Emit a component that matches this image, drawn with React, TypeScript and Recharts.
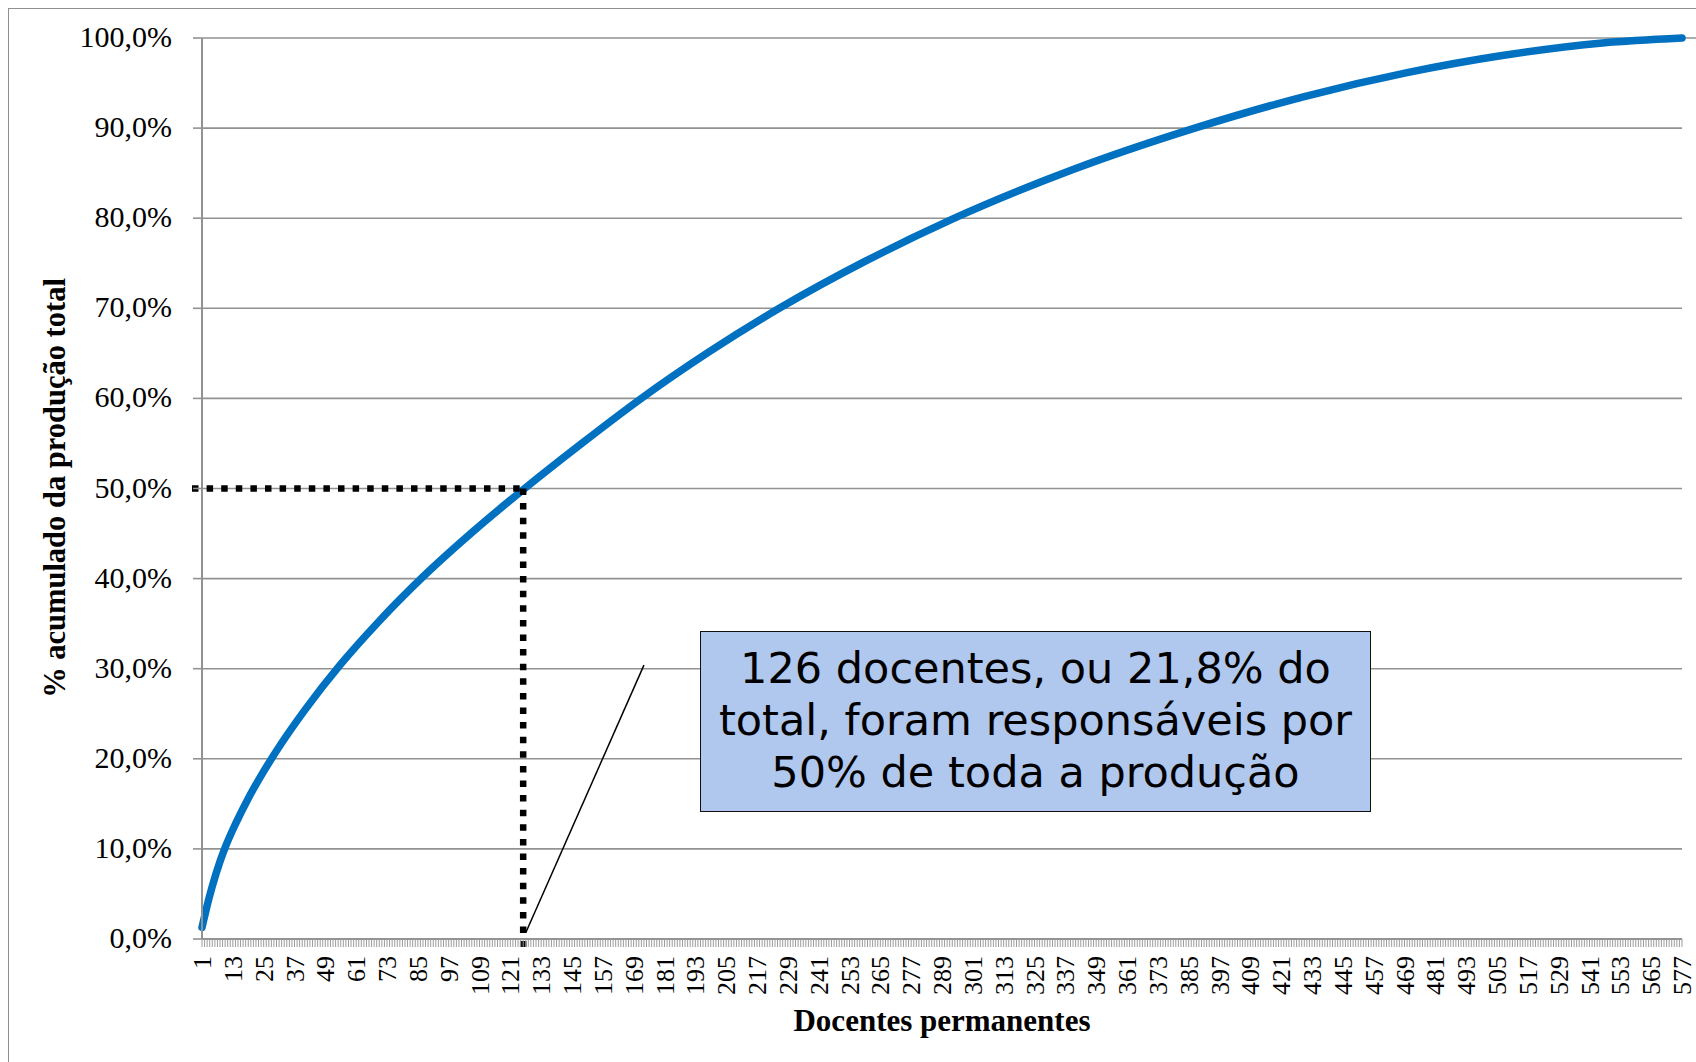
import React from 'react';
import { LineChart, Line, XAxis, YAxis, CartesianGrid, ReferenceLine } from 'recharts';

// Categories: docentes permanentes 1..577
const docentes: number[] = Array.from({ length: 577 }, (_, k) => k + 1);

// Values (cumulative % of total production)
const readDocente: number[] = [1, 2, 3, 5, 8, 10, 14, 19, 25, 32, 41, 55, 70, 87, 107, 127, 149, 171, 198, 226, 259, 293, 340, 388, 430, 470, 507, 546, 577];
const readPct: number[] = [1.3, 2.5, 3.7, 5.85, 8.6, 10.15, 12.75, 15.6, 18.6, 21.75, 25.4, 30.5, 35.3, 40.2, 45.35, 50.1, 55.05, 59.8, 65.1, 70.05, 75.2, 79.9, 85.4, 90.05, 93.5, 96.15, 98.05, 99.45, 100];

const yTicks: number[] = [0, 10, 20, 30, 40, 50, 60, 70, 80, 90, 100];
const xLabelStep = 12;

const markDocente = 126;
const markPct = 50;

const annotationLines: string[] = [
  '126 docentes, ou 21,8% do',
  'total, foram responsáveis por',
  '50% de toda a produção',
];
const leaderFrom = { x: 173, y: 30.4 };
const leaderTo = { x: 127, y: 0.7 };

const xTitle = 'Docentes permanentes';
const yTitle = '% acumulado da produção total';

const pctByDocente = new Map<number, number>();
readDocente.forEach((d, i) => pctByDocente.set(d, readPct[i]));
const data = docentes.map((n) => ({ n, v: pctByDocente.has(n) ? pctByDocente.get(n)! : null }));

const SERIF = '"Liberation Serif", "Times New Roman", serif';
const GRAY = '#929292';
const BLUE = '#0070C0';

const fmtPct = (v: number) => v.toFixed(1).replace('.', ',') + '%';

const XTick = (props: any) => {
  const { x, y, payload } = props;
  const n = Number(payload.value);
  if ((n - 1) % xLabelStep !== 0) return <g />;
  return (
    <text
      x={x}
      y={y}
      transform={`rotate(-90 ${x} ${y})`}
      textAnchor="end"
      dy="0.35em"
      fontSize={26}
      fontFamily={SERIF}
      fill="#000"
    >
      {n}
    </text>
  );
};

const YTick = (props: any) => {
  const { x, y, payload } = props;
  return (
    <text x={x} y={y} textAnchor="end" dy="0.3em" fontSize={30} fontFamily={SERIF} fill="#000">
      {fmtPct(Number(payload.value))}
    </text>
  );
};

const gridLine = (props: any) => {
  const { x1, x2, y1, y2 } = props;
  const isTop = Math.abs(y1 - 38) < 3;
  return (
    <line
      key={`g-${y1}`}
      x1={x1}
      x2={isTop ? 1696 : x2}
      y1={y1}
      y2={y2}
      stroke={GRAY}
      strokeWidth={1.6}
    />
  );
};

const DotH = (props: any) => (
  <line
    x1={props.x1 - 10}
    y1={props.y1}
    x2={props.x2 + 3}
    y2={props.y2}
    stroke="#000"
    strokeWidth={6.5}
    strokeDasharray="6.5 8.1"
  />
);
const DotV = (props: any) => (
  <line
    x1={props.x1}
    y1={props.y1}
    x2={props.x2}
    y2={props.y2 + 8}
    stroke="#000"
    strokeWidth={6.5}
    strokeDasharray="6.5 8.1"
  />
);

export default function App() {
  return (
    <div style={{ position: 'absolute', left: 0, top: 0, width: 1696, height: 1062, overflow: 'hidden', background: '#fff' }}>
      <div
        style={{
          position: 'absolute',
          left: 8,
          top: 8,
          width: 1696,
          height: 1062,
          borderLeft: '1.6px solid #8f8f8f',
          borderTop: '1.6px solid #8f8f8f',
        }}
      />
      <div style={{ position: 'absolute', left: 0, top: 0 }}>
        <LineChart width={1696} height={1062} data={data} margin={{ top: 38, right: 14, bottom: 0, left: 0 }}>
          <CartesianGrid vertical={false} horizontal={gridLine} stroke={GRAY} />
          <XAxis
            dataKey="n"
            interval={0}
            height={123}
            tickSize={8}
            tickMargin={9}
            axisLine={{ stroke: GRAY, strokeWidth: 2 }}
            tickLine={{ stroke: '#9c9c9c', strokeWidth: 1 }}
            tick={(p: any) => <XTick {...p} />}
          />
          <YAxis
            type="number"
            domain={[0, 100]}
            ticks={yTicks}
            width={202}
            tickSize={9}
            tickMargin={21}
            axisLine={{ stroke: GRAY, strokeWidth: 2 }}
            tickLine={{ stroke: GRAY, strokeWidth: 1.6 }}
            tick={(p: any) => <YTick {...p} />}
          />
          <Line
            type="monotone"
            dataKey="v"
            stroke={BLUE}
            strokeWidth={7.5}
            strokeLinecap="round"
            dot={false}
            activeDot={false}
            connectNulls
            isAnimationActive={false}
          />
          <ReferenceLine
            segment={[{ x: 1, y: markPct }, { x: markDocente, y: markPct }]}
            ifOverflow="visible"
            shape={DotH}
          />
          <ReferenceLine
            segment={[{ x: markDocente, y: markPct }, { x: markDocente, y: 0 }]}
            ifOverflow="visible"
            shape={DotV}
          />
          <ReferenceLine
            segment={[leaderFrom, leaderTo]}
            ifOverflow="visible"
            stroke="#000"
            strokeWidth={1.5}
          />
        </LineChart>
      </div>
      <svg width={1696} height={1062} style={{ position: 'absolute', left: 0, top: 0, pointerEvents: 'none' }}>
        <text x={942} y={1031} textAnchor="middle" fontFamily={SERIF} fontWeight="bold" fontSize={31} fill="#000">
          {xTitle}
        </text>
        <text
          x={65}
          y={488}
          transform="rotate(-90 65 488)"
          textAnchor="middle"
          fontFamily={SERIF}
          fontWeight="bold"
          fontSize={30.5}
          fill="#000"
        >
          {yTitle}
        </text>
      </svg>
      <div
        style={{
          position: 'absolute',
          left: 700,
          top: 631,
          width: 671,
          height: 181,
          boxSizing: 'border-box',
          border: '1.6px solid #111',
          background: '#B0C7EE',
          display: 'flex',
          flexDirection: 'column',
          alignItems: 'center',
          justifyContent: 'center',
          paddingBottom: 4,
          fontFamily: '"DejaVu Sans", Verdana, sans-serif',
          fontSize: 43,
          lineHeight: '52px',
          color: '#000',
        }}
      >
        {annotationLines.map((l) => (
          <div key={l} style={{ whiteSpace: 'nowrap' }}>
            {l}
          </div>
        ))}
      </div>
    </div>
  );
}
